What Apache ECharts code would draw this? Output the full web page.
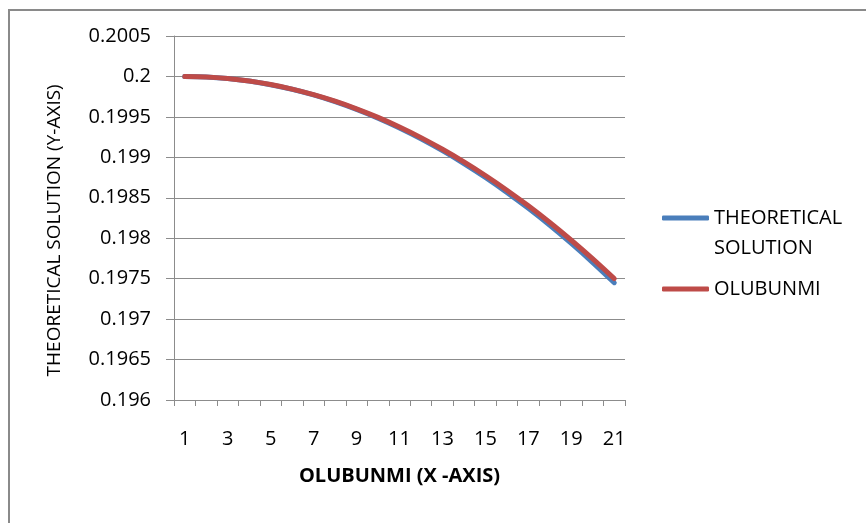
<!DOCTYPE html>
<html>
<head>
<meta charset="utf-8">
<script src="https://cdn.jsdelivr.net/npm/echarts@6/dist/echarts.min.js"></script>
<style>
  html, body { margin: 0; padding: 0; background: #fff; }
  #chart { width: 866px; height: 523px; }
</style>
</head>
<body>
<div id="chart"></div>
<script>
// x categories (1..21)
const categories = ['1','2','3','4','5','6','7','8','9','10','11','12','13','14','15','16','17','18','19','20','21']

const theoretical = [
  0.2, 0.199994, 0.199975, 0.199943, 0.199898, 0.199841, 0.199771,
  0.199688, 0.199592, 0.199484, 0.199363, 0.199229, 0.199082, 0.198923,
  0.198751, 0.198566, 0.198369, 0.198159, 0.197935, 0.197699, 0.19745
]
const olubunmi = [
  0.2, 0.199994, 0.199975, 0.199944, 0.1999, 0.199844, 0.199775,
  0.199694, 0.1996, 0.199494, 0.199375, 0.199244, 0.1991, 0.198944,
  0.198775, 0.198594, 0.1984, 0.198194, 0.197975, 0.197744, 0.1975
]

const FONT = 'Open Sans'
const GRID_GRAY = '#8c8c8c'
const BLUE = '#4A7EBB'
const RED = '#BE4B48'

const chart = echarts.init(document.getElementById('chart'), null, { renderer: 'canvas' })

chart.setOption({
  backgroundColor: '#fff',
  animation: false,
  textStyle: { fontFamily: FONT, color: '#000' },
  graphic: [{
    type: 'rect',
    shape: { x: 9, y: 10, width: 900, height: 600 },
    style: { fill: 'none', stroke: '#8a8a8a', lineWidth: 2 },
    silent: true
  }],
  grid: { left: 174, top: 36, right: 241, bottom: 123 },
  legend: {
    orient: 'vertical',
    left: 662,
    top: 173,
    padding: 0,
    itemGap: 11,
    itemWidth: 47,
    itemHeight: 5,
    icon: 'roundRect',
    textStyle: { fontFamily: FONT, fontSize: 20, lineHeight: 30, color: '#000' },
    // blank first line keeps "THEORETICAL" level with the icon
    formatter: name => name.indexOf('\n') > -1 ? ' \n' + name : name,
    data: ['THEORETICAL\nSOLUTION', 'OLUBUNMI']
  },
  xAxis: {
    type: 'category',
    data: categories,
    boundaryGap: true,
    name: 'OLUBUNMI (X -AXIS)',
    nameLocation: 'middle',
    nameGap: 66,
    nameTextStyle: { fontFamily: FONT, fontSize: 20, fontWeight: 'bold', color: '#000' },
    axisLine: { lineStyle: { color: GRID_GRAY, width: 1 } },
    axisTick: { show: true, interval: 0, length: 6, lineStyle: { color: GRID_GRAY } },
    axisLabel: { interval: 1, margin: 29, fontSize: 20, fontFamily: FONT, color: '#000' },
    splitLine: { show: false }
  },
  yAxis: {
    type: 'value',
    min: 0.196,
    max: 0.2005,
    interval: 0.0005,
    // trailing nbsp push the title a little below the grid centre, as in the original
    name: 'THEORETICAL SOLUTION (Y-AXIS)\u00a0\u00a0\u00a0\u00a0\u00a0',
    nameLocation: 'middle',
    nameGap: 110,
    nameTextStyle: { fontFamily: FONT, fontSize: 19, color: '#000' },
    axisLine: { show: true, lineStyle: { color: GRID_GRAY, width: 1 } },
    axisTick: { show: true, length: 8, lineStyle: { color: GRID_GRAY } },
    axisLabel: {
      margin: 23,
      fontSize: 20,
      fontFamily: FONT,
      color: '#000',
      formatter: v => String(parseFloat(v.toFixed(4)))
    },
    splitLine: { lineStyle: { color: GRID_GRAY, width: 1 } }
  },
  series: [
    {
      name: 'THEORETICAL\nSOLUTION',
      type: 'line',
      data: theoretical,
      symbol: 'none',
      smooth: 0.3,
      lineStyle: { color: BLUE, width: 5, cap: 'round' },
      itemStyle: { color: BLUE }
    },
    {
      name: 'OLUBUNMI',
      type: 'line',
      data: olubunmi,
      symbol: 'none',
      smooth: 0.3,
      lineStyle: { color: RED, width: 5, cap: 'round' },
      itemStyle: { color: RED }
    }
  ]
})
</script>
</body>
</html>
